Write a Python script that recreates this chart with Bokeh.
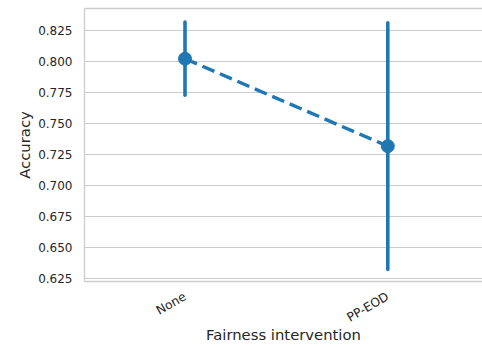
import math
from bokeh.plotting import figure
from bokeh.models import FixedTicker, PrintfTickFormatter, LinearAxis, Range1d, ColumnDataSource
from bokeh.embed import file_html
from bokeh.resources import INLINE

categories = ["None", "PP-EOD"]
means = [0.8022, 0.7317]
ci_low = [0.7728, 0.6323]
ci_high = [0.8317, 0.8311]
y_ticks = [0.625, 0.650, 0.675, 0.700, 0.725, 0.750, 0.775, 0.800, 0.825]

BLUE = "#1f77b4"
GRID = "#cccccc"
TEXT = "#262626"
FONT = "DejaVu Sans"

xs = list(range(len(categories)))
src = ColumnDataSource(dict(x=xs, m=means, lo=ci_low, hi=ci_high))

p = figure(width=482, height=347, output_backend="svg", toolbar_location=None,
           x_range=Range1d(-0.4956, 1.467), y_range=Range1d(0.6226, 0.8427),
           min_border_left=84, min_border_right=0, min_border_top=8, min_border_bottom=66)
p.outline_line_color = None
p.background_fill_color = "white"
p.border_fill_color = "white"

p.xgrid.visible = False
p.ygrid.grid_line_color = GRID
p.ygrid.grid_line_width = 1.2
p.ygrid.ticker = FixedTicker(ticks=y_ticks)

# error bars
p.segment(x0="x", y0="lo", x1="x", y1="hi", source=src, line_color=BLUE,
          line_width=3.6, line_cap="round")
# connecting dashed line
p.line(x="x", y="m", source=src, line_color=BLUE, line_width=3.4, line_dash="13 6")
# points
p.scatter(x="x", y="m", source=src, size=13, fill_color=BLUE, line_color=BLUE)

# y axis
ya = p.yaxis[0]
ya.ticker = FixedTicker(ticks=y_ticks)
ya.formatter = PrintfTickFormatter(format="%.3f")
ya.axis_label = "Accuracy"
ya.major_tick_out = 0
ya.major_tick_in = 0
ya.minor_tick_out = 0
ya.minor_tick_in = 0
ya.major_label_standoff = 12
ya.axis_label_standoff = 2
ya.axis_line_color = GRID
ya.axis_line_width = 1.3
ya.major_label_text_font = FONT
ya.major_label_text_font_size = "12px"
ya.major_label_text_color = TEXT
ya.axis_label_text_font = FONT
ya.axis_label_text_font_size = "14.8px"
ya.axis_label_text_font_style = "normal"
ya.axis_label_text_color = TEXT

# x axis
xa = p.xaxis[0]
xa.ticker = FixedTicker(ticks=xs)
xa.major_label_overrides = {i: c for i, c in zip(xs, categories)}
xa.major_label_orientation = math.pi / 6
xa.axis_label = "Fairness intervention"
xa.major_tick_out = 0
xa.major_tick_in = 0
xa.minor_tick_out = 0
xa.minor_tick_in = 0
xa.major_label_standoff = 14
xa.axis_label_standoff = -8
xa.axis_line_color = GRID
xa.axis_line_width = 1.3
xa.major_label_text_font = FONT
xa.major_label_text_font_size = "12.3px"
xa.major_label_text_color = TEXT
xa.axis_label_text_font = FONT
xa.axis_label_text_font_size = "14.8px"
xa.axis_label_text_font_style = "normal"
xa.axis_label_text_color = TEXT

# top spine
top = LinearAxis(ticker=FixedTicker(ticks=[]), axis_line_color=GRID, axis_line_width=1.3,
                 major_tick_out=0, major_tick_in=0, minor_tick_out=0, minor_tick_in=0,
                 major_label_text_font_size="0px", major_label_standoff=0)
p.add_layout(top, "above")

open("out.html", "w").write(file_html(p, INLINE))
